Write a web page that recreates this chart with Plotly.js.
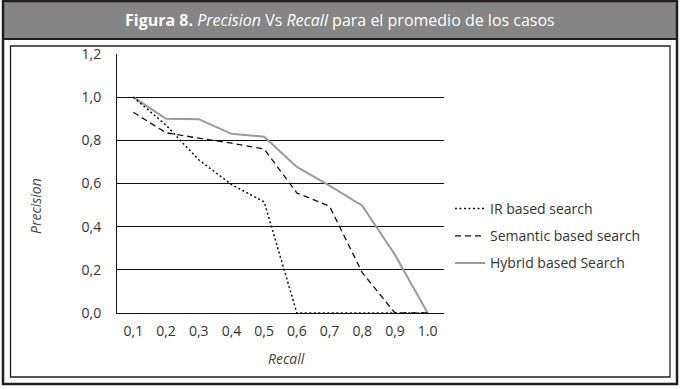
<!DOCTYPE html>
<html>
<head>
<meta charset="utf-8">
<script src="https://cdn.plot.ly/plotly-3.0.1.min.js"></script>
<style>
  html, body { margin: 0; padding: 0; background: #ffffff; }
  #chart { width: 680px; height: 389px; }
</style>
</head>
<body>
<div id="chart"></div>
<script>
// ---- data ----
const recall = ["0,1", "0,2", "0,3", "0,4", "0,5", "0,6", "0,7", "0,8", "0,9", "1.0"];
const irPrecision = [1.0, 0.87, 0.71, 0.595, 0.515, 0, 0, 0, 0, 0];
const semanticPrecision = [0.93, 0.835, 0.81, 0.787, 0.76, 0.556, 0.495, 0.187, 0, 0];
const hybridPrecision = [1.0, 0.9, 0.898, 0.83, 0.817, 0.677, 0.59, 0.497, 0.27, 0];
const seriesNames = ["IR based search", "Semantic based search", "Hybrid based Search"];
const yTickVals = [0, 0.2, 0.4, 0.6, 0.8, 1.0, 1.2];
const yTickText = ["0,0", "0,2", "0,4", "0,6", "0,8", "1,0", "1,2"];

// ---- layout geometry (pixels) ----
const W = 680, H = 389;
const L = 117, R = 444, T = 54, B = 313;
const px = x => (x - L) / (R - L);
const py = y => (B - y) / (B - T);
const FONT = "'Open Sans', Lato, sans-serif";

const traces = [
  { x: recall, y: hybridPrecision, name: seriesNames[2], type: "scatter", mode: "lines",
    line: { color: "#9a9a9a", width: 2 }, legendgroup: "c", legendrank: 3 },
  { x: recall, y: semanticPrecision, name: seriesNames[1], type: "scatter", mode: "lines",
    line: { color: "#111111", width: 1.3, dash: "6px,4px" }, legendgroup: "b", legendrank: 2 },
  { x: recall, y: irPrecision, name: seriesNames[0], type: "scatter", mode: "lines",
    line: { color: "#111111", width: 1.5, dash: "2px,2.5px" }, legendgroup: "a", legendrank: 1 }
];

const layout = {
  width: W, height: H,
  margin: { l: L, r: W - R, t: T, b: H - B, pad: 0 },
  paper_bgcolor: "#ffffff",
  plot_bgcolor: "#ffffff",
  showlegend: true,
  legend: {
    x: px(450), y: py(193), xanchor: "left", yanchor: "top",
    font: { family: FONT, size: 14, color: "#333333" },
    bgcolor: "rgba(0,0,0,0)",
    traceorder: "grouped",
    tracegroupgap: 6
  },
  xaxis: {
    type: "category",
    range: [-0.5, recall.length - 0.5],
    tickvals: recall, ticktext: recall,
    showgrid: false, zeroline: false,
    showline: true, linecolor: "#111111", linewidth: 1,
    ticks: "outside", ticklen: 5, tickcolor: "rgba(0,0,0,0)",
    tickfont: { family: FONT, size: 14, color: "#333333" },
    fixedrange: true
  },
  yaxis: {
    range: [0, 1.2],
    tickvals: yTickVals, ticktext: yTickText,
    showgrid: true, gridcolor: "#111111", gridwidth: 1,
    zeroline: false,
    showline: true, linecolor: "#111111", linewidth: 1,
    ticks: "outside", ticklen: 12, tickcolor: "rgba(0,0,0,0)",
    tickfont: { family: FONT, size: 14, color: "#333333" },
    fixedrange: true
  },
  shapes: [
    // title bar
    { type: "rect", xref: "paper", yref: "paper", x0: px(2), x1: px(678), y0: py(0), y1: py(39),
      fillcolor: "#858585", line: { width: 0 }, layer: "below" },
    { type: "line", xref: "paper", yref: "paper", x0: px(2), x1: px(678), y0: py(39), y1: py(39),
      line: { color: "#231f20", width: 2 } },
    // outer frame
    { type: "rect", xref: "paper", yref: "paper", x0: px(3), x1: px(677), y0: py(1), y1: py(384),
      line: { color: "#231f20", width: 2.5 } },
    // inner frame
    { type: "rect", xref: "paper", yref: "paper", x0: px(10.5), x1: px(670), y0: py(46), y1: py(377),
      line: { color: "#231f20", width: 1.3 } }
  ],
  annotations: [
    { xref: "paper", yref: "paper", x: px(340), y: py(20), xanchor: "center", yanchor: "middle",
      showarrow: false,
      text: "<b>Figura 8.</b> <i>Precision</i> Vs <i>Recall</i> para el promedio de los casos",
      font: { family: FONT, size: 16, color: "#ffffff" } },
    { xref: "paper", yref: "paper", x: px(36), y: py(206), xanchor: "center", yanchor: "middle",
      showarrow: false, textangle: -90, text: "<i>Precision</i>",
      font: { family: FONT, size: 14, color: "#444444" } },
    { xref: "paper", yref: "paper", x: px(286), y: py(358), xanchor: "center", yanchor: "middle",
      showarrow: false, text: "<i>Recall</i>",
      font: { family: FONT, size: 14, color: "#444444" } }
  ]
};

Plotly.newPlot("chart", traces, layout, { displayModeBar: false, staticPlot: true });
</script>
</body>
</html>
